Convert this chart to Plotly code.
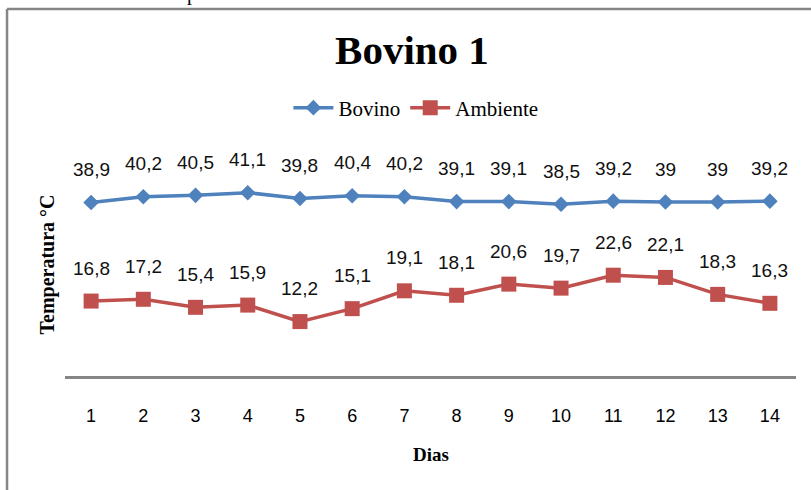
import plotly.graph_objects as go

dias = list(range(1, 15))
bovino = [38.9, 40.2, 40.5, 41.1, 39.8, 40.4, 40.2, 39.1, 39.1, 38.5, 39.2, 39.0, 39.0, 39.2]
ambiente = [16.8, 17.2, 15.4, 15.9, 12.2, 15.1, 19.1, 18.1, 20.6, 19.7, 22.6, 22.1, 18.3, 16.3]

BLUE = "#4F81BD"
RED = "#C0504D"
SERIF = "Liberation Serif, Times New Roman, serif"
SANS = "Liberation Sans, Arial, sans-serif"


def fmt(v):
    return f"{v:g}".replace(".", ",")


fig = go.Figure()
fig.add_trace(go.Scatter(
    x=dias, y=bovino, name="Bovino", mode="lines+markers",
    line=dict(color=BLUE, width=3.5),
    marker=dict(symbol="diamond", size=12, color=BLUE),
))
fig.add_trace(go.Scatter(
    x=dias, y=ambiente, name="Ambiente", mode="lines+markers",
    line=dict(color=RED, width=3.5),
    marker=dict(symbol="square", size=15, color=RED),
))

annotations = []
for serie in (bovino, ambiente):
    for d, v in zip(dias, serie):
        annotations.append(dict(
            x=d, y=v, xref="x", yref="y", text=fmt(v), showarrow=False,
            yshift=33, yanchor="middle",
            font=dict(family=SANS, size=19, color="#111111"),
        ))

# axis titles
annotations.append(dict(
    x=0.5, y=-0.354, xref="paper", yref="paper", text="<b>Dias</b>",
    showarrow=False, yanchor="middle",
    font=dict(family=SERIF, size=19, color="black"),
))
annotations.append(dict(
    x=-0.0233, y=0.5, xref="paper", yref="paper", text="<b>Temperatura °C</b>",
    showarrow=False, textangle=-90, xanchor="center", yanchor="middle",
    font=dict(family=SERIF, size=20, color="black"),
))
# cut-off caption text above the chart (only its lower edge shows)
annotations.append(dict(
    x=(155 - 65) / 731, y=1.715, xref="paper", yref="paper",
    text="temperatura do ambiente.", showarrow=False,
    xanchor="left", yanchor="middle",
    font=dict(family=SERIF, size=20, color="black"),
))

fig.update_layout(
    width=811, height=490,
    margin=dict(l=65, r=15, t=153, b=114),
    paper_bgcolor="white", plot_bgcolor="white",
    title=dict(
        text="<b>Bovino 1</b>", x=0.508, y=1 - 50 / 490,
        xanchor="center", yanchor="middle",
        font=dict(family=SERIF, size=41, color="black"),
    ),
    legend=dict(
        orientation="h", x=0.48, y=1.2018, xanchor="center", yanchor="middle",
        font=dict(family=SERIF, size=21, color="black"),
        itemwidth=40, tracegroupgap=0,
    ),
    annotations=annotations,
    showlegend=True,
    shapes=[
        dict(type="line", xref="paper", yref="paper",
             x0=-0.0793, x1=-0.0793, y0=1.6457, y1=-0.6,
             line=dict(color="#868686", width=2.5)),
        dict(type="line", xref="paper", yref="paper",
             x0=-0.0793, x1=1.05, y0=1.6457, y1=1.6457,
             line=dict(color="#868686", width=2.5)),
    ],
)

fig.update_xaxes(
    range=[0.5, 14.5], tickvals=dias, ticktext=[str(d) for d in dias],
    showline=True, linecolor="#868686", linewidth=2.5,
    showgrid=False, zeroline=False, ticks="",
    ticklabelstandoff=22,
    tickfont=dict(family="Liberation Sans Narrow, Arial Narrow, sans-serif", size=18, color="black"),
)
fig.update_yaxes(
    range=[0, 50], visible=False, showgrid=False, zeroline=False,
)

fig.write_html(
    "out.html",
    config={"displayModeBar": False},
    post_script="document.body.style.margin='0';",
)
